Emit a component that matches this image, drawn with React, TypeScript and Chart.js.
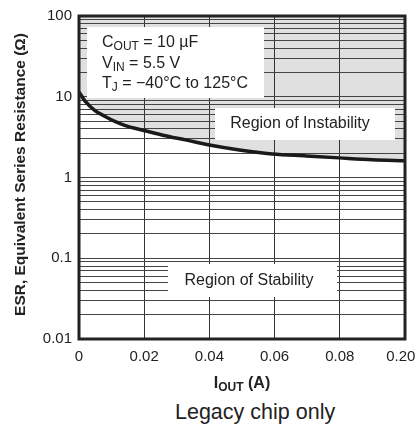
import React, { useEffect, useRef } from 'react';
import { Chart, registerables } from 'chart.js';

Chart.register(...registerables);

// ---- data ----
const IOUT_A = [0, 0.0018, 0.0049, 0.008, 0.011, 0.014, 0.0196, 0.0257, 0.033, 0.04, 0.0492, 0.0593, 0.0697, 0.0798, 0.09, 0.1];
const ESR_OHM = [11.5, 8.9, 6.75, 5.7, 4.95, 4.43, 3.85, 3.34, 2.9, 2.52, 2.19, 1.96, 1.85, 1.75, 1.66, 1.61];

const X_TICKS = [0, 0.02, 0.04, 0.06, 0.08, 0.1];
const X_TICK_LABELS = ['0', '0.02', '0.04', '0.06', '0.08', '0.20  '];
const Y_DECADES = [0.01, 0.1, 1, 10, 100];
const Y_TICK_LABELS = ['0.01', '0.1', '1', '10', '100'];
const Y_MINOR_STEPS = [1, 2, 3, 4, 5, 6, 7, 8, 9];

const LEGEND_LINES = [
  { main: 'C', sub: 'OUT', rest: ' = 10 \u00B5F' },
  { main: 'V', sub: 'IN', rest: ' = 5.5 V' },
  { main: 'T', sub: 'J', rest: ' = \u221240\u00B0C to 125\u00B0C' },
];
const UNSTABLE_LABEL = 'Region of Instability';
const STABLE_LABEL = 'Region of Stability';
const X_TITLE = { main: 'I', sub: 'OUT', rest: ' (A)' };
const Y_TITLE = 'ESR, Equivalent Series Resistance (\u03A9)';
const FOOTNOTE = 'Legacy chip only';

const FONT = '"Liberation Sans", Arial, Helvetica, sans-serif';
const INK = '#222';

function drawSub(
  ctx: CanvasRenderingContext2D,
  x: number,
  y: number,
  p: { main: string; sub: string; rest: string },
  size: number,
  subSize: number,
  weight: string,
  align: 'left' | 'center'
) {
  const f1 = `${weight} ${size}px ${FONT}`;
  const f2 = `${weight} ${subSize}px ${FONT}`;
  ctx.font = f1;
  const w1 = ctx.measureText(p.main).width;
  const w3 = ctx.measureText(p.rest).width;
  ctx.font = f2;
  const w2 = ctx.measureText(p.sub).width;
  let sx = align === 'center' ? x - (w1 + w2 + w3) / 2 : x;
  ctx.textAlign = 'left';
  ctx.textBaseline = 'alphabetic';
  ctx.font = f1;
  ctx.fillText(p.main, sx, y);
  sx += w1;
  ctx.font = f2;
  ctx.fillText(p.sub, sx, y + 3);
  sx += w2;
  ctx.font = f1;
  ctx.fillText(p.rest, sx, y);
}

const annotationPlugin = {
  id: 'esrAnnotations',
  afterDraw(chart: any) {
    const ctx: CanvasRenderingContext2D = chart.ctx;
    const ca = chart.chartArea;
    ctx.save();
    // white label boxes
    ctx.fillStyle = '#ffffff';
    ctx.fillRect(ca.left + 8, ca.top + 11, 177, 71);
    ctx.fillRect(ca.left + 136, ca.top + 92, 180, 32);
    ctx.fillRect(ca.left + 89, ca.top + 248, 169, 33);

    ctx.fillStyle = INK;
    LEGEND_LINES.forEach((l, i) => {
      drawSub(ctx, ca.left + 23, ca.top + 31 + i * 20.5, l, 16, 12, 'normal', 'left');
    });
    ctx.font = `16px ${FONT}`;
    ctx.textAlign = 'center';
    ctx.textBaseline = 'alphabetic';
    ctx.fillText(UNSTABLE_LABEL, ca.left + 221, ca.top + 112);
    ctx.fillText(STABLE_LABEL, ca.left + 170, ca.top + 269);

    // frame
    ctx.strokeStyle = INK;
    ctx.lineWidth = 3;
    ctx.strokeRect(ca.left, ca.top, ca.right - ca.left, ca.bottom - ca.top);

    // axis titles
    ctx.fillStyle = INK;
    drawSub(ctx, (ca.left + ca.right) / 2, ca.bottom + 49, X_TITLE, 16, 12, 'bold', 'center');
    ctx.save();
    ctx.translate(21, (ca.top + ca.bottom) / 2 - 3);
    ctx.rotate(-Math.PI / 2);
    ctx.font = `bold 15.5px ${FONT}`;
    ctx.textAlign = 'center';
    ctx.textBaseline = 'middle';
    ctx.fillText(Y_TITLE, 0, 0);
    ctx.restore();
    ctx.restore();
  },
};

function yLabel(v: number): string {
  const idx = Y_DECADES.findIndex((d) => Math.abs(v / d - 1) < 1e-6);
  return idx >= 0 ? Y_TICK_LABELS[idx] : '';
}

export default function App() {
  const ref = useRef<HTMLCanvasElement | null>(null);

  useEffect(() => {
    if (!ref.current) return;
    const yTicks: number[] = [];
    for (let i = 0; i < Y_DECADES.length - 1; i++) {
      Y_MINOR_STEPS.forEach((s) => yTicks.push(Number((Y_DECADES[i] * s).toPrecision(6))));
    }
    yTicks.push(Y_DECADES[Y_DECADES.length - 1]);

    const chart = new Chart(ref.current, {
      type: 'line',
      data: {
        datasets: [
          {
            data: IOUT_A.map((x, i) => ({ x, y: ESR_OHM[i] })),
            borderColor: '#1a1a1a',
            borderWidth: 3.5,
            backgroundColor: '#e0e0e0',
            fill: 'end',
            pointRadius: 0,
            cubicInterpolationMode: 'monotone',
          },
        ],
      },
      options: {
        responsive: false,
        animation: false,
        devicePixelRatio: 1,
        layout: { padding: { top: 11, right: 0, left: 0, bottom: 0 } },
        plugins: {
          legend: { display: false },
          tooltip: { enabled: false },
          filler: { drawTime: 'beforeDraw' },
        },
        scales: {
          x: {
            type: 'linear',
            min: 0,
            max: 0.1,
            afterBuildTicks: (scale: any) => {
              scale.ticks = X_TICKS.map((value) => ({ value }));
            },
            afterFit: (scale: any) => {
              scale.height = 53;
              scale.paddingRight = 13;
            },
            grid: { color: '#333', lineWidth: 1, drawTicks: false },
            border: { display: false },
            ticks: {
              autoSkip: false,
              maxRotation: 0,
              padding: 9,
              color: INK,
              font: { family: FONT, size: 15 },
              callback: (_v: any, i: number) => X_TICK_LABELS[i],
            },
          },
          y: {
            type: 'logarithmic',
            min: 0.01,
            max: 100,
            afterBuildTicks: (scale: any) => {
              scale.ticks = yTicks.map((value) => ({ value }));
            },
            afterFit: (scale: any) => {
              scale.width = 79;
            },
            grid: { color: '#444', lineWidth: 1, drawTicks: false },
            border: { display: false },
            ticks: {
              autoSkip: false,
              padding: 7,
              color: INK,
              font: { family: FONT, size: 15 },
              callback: (v: any) => yLabel(Number(v)),
            },
          },
        },
      } as any,
      plugins: [annotationPlugin],
    });
    return () => chart.destroy();
  }, []);

  return (
    <div style={{ position: 'absolute', left: 0, top: 0, width: 418, height: 426, background: '#fff' }}>
      <canvas ref={ref} width={418} height={392} style={{ display: 'block' }} />
      <div
        style={{
          position: 'absolute',
          left: 175,
          top: 399,
          fontFamily: FONT,
          fontSize: 21.5,
          lineHeight: '26px',
          color: INK,
          whiteSpace: 'nowrap',
        }}
      >
        {FOOTNOTE}
      </div>
    </div>
  );
}
